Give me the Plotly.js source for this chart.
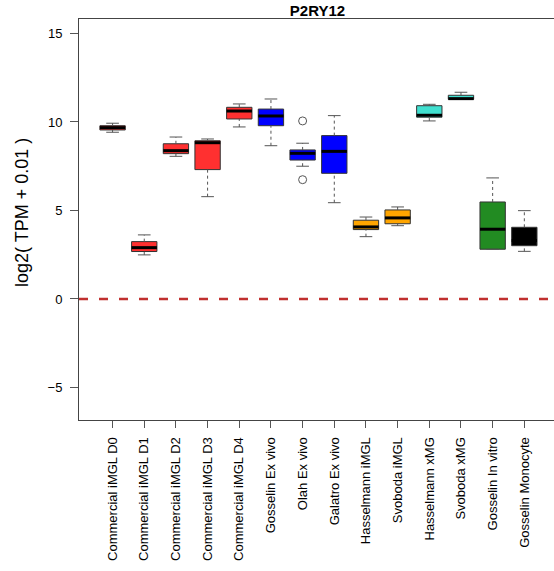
<!DOCTYPE html>
<html>
<head>
<meta charset="utf-8">
<script src="https://cdn.plot.ly/plotly-3.0.1.min.js"></script>
<style>
  html, body { margin: 0; padding: 0; background: #fff; overflow: hidden; }
  #chart { width: 560px; height: 571px; }
</style>
</head>
<body>
<div id="chart"></div>
<script>
// P2RY12 expression across microglia models and references
const categories = [
  "Commercial iMGL D0", "Commercial iMGL D1", "Commercial iMGL D2", "Commercial iMGL D3",
  "Commercial iMGL D4", "Gosselin Ex vivo", "Olah Ex vivo", "Galatro Ex vivo",
  "Hasselmann iMGL", "Svoboda iMGL", "Hasselmann xMG", "Svoboda xMG",
  "Gosselin In vitro", "Gosselin Monocyte"
];

// five-number summaries, log2(TPM + 0.01)
const lowerWhisker = [9.42, 2.49, 8.06, 5.78, 9.72, 8.66, 7.50, 5.44, 3.52, 4.14, 10.06, 11.28, 2.81, 2.69];
const q1Values     = [9.55, 2.68, 8.21, 7.31, 10.17, 9.79, 7.85, 7.10, 3.92, 4.25, 10.27, 11.28, 2.81, 3.01];
const medianValues = [9.68, 2.90, 8.38, 8.83, 10.62, 10.34, 8.23, 8.34, 4.07, 4.58, 10.38, 11.32, 3.94, 3.30];
const q3Values     = [9.79, 3.24, 8.77, 8.94, 10.83, 10.73, 8.42, 9.23, 4.45, 5.03, 10.92, 11.51, 5.48, 4.05];
const upperWhisker = [9.93, 3.62, 9.15, 9.04, 11.02, 11.30, 8.80, 10.36, 4.63, 5.20, 11.00, 11.68, 6.84, 4.99];

// outlying samples (group name, value)
const outlierGroups = ["Olah Ex vivo", "Olah Ex vivo"];
const outlierValues = [10.06, 6.74];

const boxColors = [
  "#FF3030", "#FF3030", "#FF3030", "#FF3030", "#FF3030",
  "#0000FF", "#0000FF", "#0000FF",
  "#FFA500", "#FFA500",
  "#40E0D0", "#40E0D0",
  "#228B22", "#000000"
];

const refLevel = 0;

const positions = categories.map((_, i) => i + 1);
const boxHalf = 0.4;
const capHalf = 0.2;

function segments(fn) {
  const xs = [], ys = [];
  positions.forEach((p, i) => {
    fn(p, i).forEach(seg => {
      xs.push(seg[0], seg[1], null);
      ys.push(seg[2], seg[3], null);
    });
  });
  return { xs, ys };
}

const whisk = segments((p, i) => {
  const s = [];
  if (upperWhisker[i] > q3Values[i]) s.push([p, p, q3Values[i], upperWhisker[i]]);
  if (lowerWhisker[i] < q1Values[i]) s.push([p, p, lowerWhisker[i], q1Values[i]]);
  return s;
});
const caps = segments((p, i) => [
  [p - capHalf, p + capHalf, upperWhisker[i], upperWhisker[i]],
  [p - capHalf, p + capHalf, lowerWhisker[i], lowerWhisker[i]]
]);
const meds = segments((p, i) => [
  [p - boxHalf, p + boxHalf, medianValues[i], medianValues[i]]
]);

const traces = [
  {
    type: "scatter", mode: "lines", x: whisk.xs, y: whisk.ys,
    line: { color: "#555", width: 1, dash: "3px,3px" }, hoverinfo: "skip", showlegend: false
  },
  {
    type: "scatter", mode: "lines", x: caps.xs, y: caps.ys,
    line: { color: "#555", width: 1 }, hoverinfo: "skip", showlegend: false
  },
  {
    type: "bar", x: positions, base: q1Values,
    y: q3Values.map((v, i) => v - q1Values[i]),
    width: 2 * boxHalf,
    marker: { color: boxColors, line: { color: "#333", width: 1 } },
    hoverinfo: "skip", showlegend: false
  },
  {
    type: "scatter", mode: "lines", x: meds.xs, y: meds.ys,
    line: { color: "#000", width: 3 }, hoverinfo: "skip", showlegend: false
  },
  {
    type: "scatter", mode: "markers",
    x: outlierGroups.map(g => categories.indexOf(g) + 1), y: outlierValues,
    marker: { symbol: "circle-open", size: 8, color: "#555", line: { width: 1 } },
    hoverinfo: "skip", showlegend: false
  }
];

const font = "Liberation Sans, Arial, Helvetica, sans-serif";

const layout = {
  width: 560, height: 571,
  margin: { l: 79, r: 4, t: 19, b: 151 },
  paper_bgcolor: "#fff", plot_bgcolor: "#fff",
  font: { family: font, color: "#000", size: 13 },
  title: {
    text: "<b>P2RY12</b>", font: { family: font, size: 15, color: "#000" },
    x: 0.5, xref: "paper", y: 1 - 11 / 571, yref: "container", yanchor: "middle"
  },
  xaxis: {
    range: [-0.06, 15.0], tickmode: "array", tickvals: positions, ticktext: categories,
    tickangle: -90, ticks: "outside", ticklen: 7, tickcolor: "#555",
    ticklabelstandoff: 4,
    showgrid: false, zeroline: false, showline: true, mirror: true,
    linecolor: "#444", linewidth: 1, tickfont: { size: 13 }, fixedrange: true
  },
  yaxis: {
    range: [-6.84, 15.82], tickmode: "array", tickvals: [-5, 0, 5, 10, 15],
    ticktext: ["\u22125", "0", "5", "10", "15"],
    ticks: "outside", ticklen: 8, tickcolor: "#555",
    ticklabelstandoff: 5,
    showgrid: false, zeroline: false, showline: true, mirror: true,
    linecolor: "#444", linewidth: 1, tickfont: { size: 13 }, fixedrange: true
  },
  shapes: [{
    type: "line", xref: "paper", x0: 0, x1: 1, yref: "y", y0: refLevel, y1: refLevel,
    line: { color: "#C0302F", width: 2.5, dash: "9px,11px" }, layer: "below"
  }],
  annotations: [{
    text: "log2( TPM + 0.01 )", xref: "paper", yref: "paper",
    x: (22 - 79) / 477, y: (420 - 213) / 401, xanchor: "center", yanchor: "middle",
    textangle: -90, showarrow: false, font: { family: font, size: 18, color: "#000" }
  }],
  bargap: 0
};

Plotly.newPlot("chart", traces, layout, { displayModeBar: false, staticPlot: true });
</script>
</body>
</html>
